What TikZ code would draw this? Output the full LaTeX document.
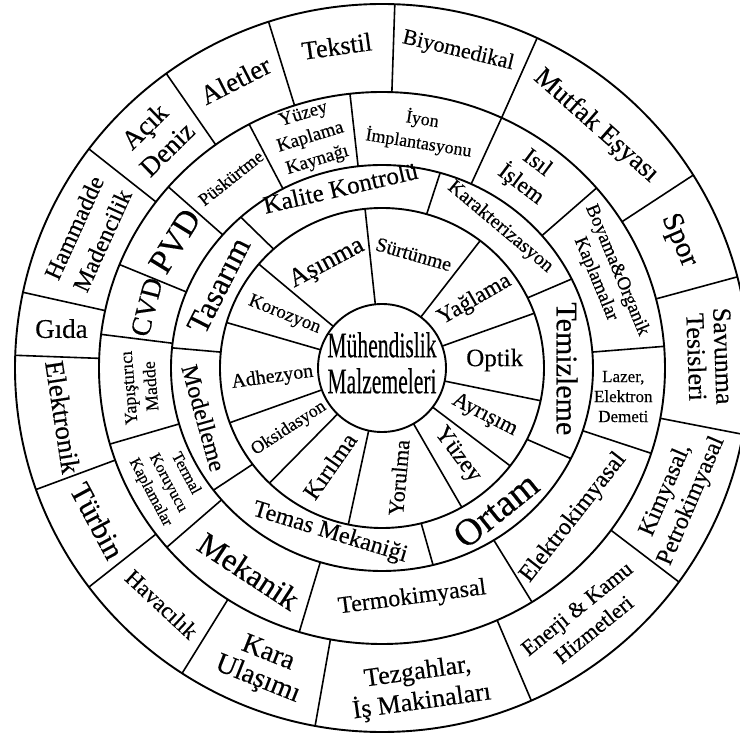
\documentclass[tikz,border=0pt]{standalone}
\usepackage{fontspec}
\setmainfont{Liberation Serif}[FakeBold=0.35]
\usepackage{graphicx}
\newcommand\fs[2]{\fontsize{#1}{#2}\selectfont}
\begin{document}
\begin{tikzpicture}[x=1pt,y=1pt,
  ring/.style={line width=1.9pt},
  sep/.style={line width=1.6pt},
  lab/.style={align=center, inner sep=0pt, text=black}]
\useasboundingbox (-382,-368) rectangle (358,368);
\fill[white] (-382,-368) rectangle (358,368);
\clip (-382,-368) rectangle (358,368);

% ring outlines
\draw[ring] (0,0) ellipse [x radius=367pt, y radius=364pt];
\draw[ring] (0,0) ellipse [x radius=283pt, y radius=276pt];
\draw[ring] (0,0) ellipse [x radius=211pt, y radius=203pt];
\draw[ring] (0,0) ellipse [x radius=162pt, y radius=160pt];
\draw[ring] (0,0) circle [radius=64pt];

% dividers, outer ring
\foreach \a in {-100.5,-66,-36,-10.5,14.5,32,65,88,108,126,143,168,178,199.5,217,237}
  \draw[sep] (\a:283pt and 276pt) -- (\a:367pt and 364pt);
% dividers, process ring
\foreach \a in {-107,-58,-18,4.5,40.7,65,96.5,118,139,158,173,196,220.5}
  \draw[sep] (\a:211pt and 203pt) -- (\a:283pt and 276pt);
% dividers, third ring
\foreach \a in {-76,-26.5,26,74,132,174.3,217}
  \draw[sep] (\a:162pt and 160pt) -- (\a:211pt and 203pt);
% dividers, inner ring
\foreach \a in {-102,-60.5,-37.7,-11.8,20,52.7,96,139.5,163.5,200,226}
  \draw[sep] (\a:64pt) -- (\a:162pt and 160pt);

% centre
\node[lab] (center) at (0,0) {\scalebox{0.6}[1]{\fs{36}{36}\begin{tabular}{@{}c@{}}Mühendislik\\Malzemeleri\end{tabular}}};

% outer ring labels
\node[lab, rotate=8, font=\fs{26}{28}] (t1) at (98:325pt) {Tekstil};
\node[lab, rotate=-13.5, font=\fs{22}{24}] (t2) at (76.5:326pt) {Biyomedikal};
\node[lab, rotate=-41.5, font=\fs{27}{28}] (t3) at (48.5:323pt) {Mutfak Eşyası};
\node[lab, rotate=-66.75, font=\fs{29}{30}] (t4) at (23.25:323pt) {Spor};
\node[lab, rotate=-88, font=\fs{26}{27}] (t5) at (2:328pt) {Savunma\\Tesisleri};
\node[lab, rotate=66.75, font=\fs{24}{28}] (t6) at (-23.25:323pt) {Kimyasal,\\Petrokimyasal};
\node[lab, rotate=39, font=\fs{22}{27}] (t7) at (-51:323pt) {Enerji \& Kamu\\Hizmetleri};
\node[lab, rotate=8, font=\fs{26}{30}] (t8) at (-83.25:322pt) {Tezgahlar,\\İş Makinaları};
\node[lab, rotate=-21.75, font=\fs{28}{28}] (t9) at (248.25:322pt) {Kara\\Ulaşımı};
\node[lab, rotate=-43, font=\fs{23}{24}] (t10) at (227:323pt) {Havacılık};
\node[lab, rotate=-61.75, font=\fs{30}{30}] (t11) at (208.25:323pt) {Türbin};
\node[lab, rotate=-81.25, font=\fs{27}{28}] (t12) at (188.75:323pt) {Elektronik};
\node[lab, font=\fs{27}{28}] (t13) at (173:323pt) {Gıda};
\node[lab, rotate=65.5, font=\fs{24}{31}] (t14) at (155.5:323pt) {Hammadde\\Madencilik};
\node[lab, rotate=44.5, font=\fs{27}{32}] (t15) at (134.5:323pt) {Açık\\Deniz};
\node[lab, rotate=27, font=\fs{27}{28}] (t16) at (117:323pt) {Aletler};

% process ring labels
\node[lab, rotate=17, font=\fs{19}{24}] (p1) at (107.25:241pt) {Yüzey\\Kaplama\\Kaynağı};
\node[lab, rotate=-9, font=\fs{18}{24}] (p2) at (80.75:240pt) {İyon\\İmplantasyonu};
\node[lab, rotate=-37, font=\fs{23}{27}] (p3) at (52.85:243pt) {Isıl\\İşlem};
\node[lab, rotate=-67.4, font=\fs{19}{23}] (p4) at (22.6:243pt) {Boyama\&Organik\\Kaplamalar};
\node[lab, font=\fs{17}{20}] (p5) at (-6.75:243pt) {Lazer,\\Elektron\\Demeti};
\node[lab, rotate=52, font=\fs{24}{26}] (p6) at (-38:243pt) {Elektrokimyasal};
\node[lab, rotate=7.5, font=\fs{24}{26}] (p7) at (277.5:232pt) {Termokimyasal};
\node[lab, rotate=-33.25, font=\fs{32}{34}] (p8) at (236.75:243pt) {Mekanik};
\node[lab, rotate=-61.75, font=\fs{16}{20}] (p9) at (208.25:243pt) {Termal\\Koruyucu\\Kaplamalar};
\node[lab, rotate=94.5, font=\fs{18}{22}] (p10) at (184.5:243pt) {Yapıştırıcı\\Madde};
\node[lab, rotate=75.5, font=\fs{28}{30}] (p11) at (165.5:243pt) {CVD};
\node[lab, rotate=58.5, font=\fs{34}{36}] (p12) at (148.5:243pt) {PVD};
\node[lab, rotate=38.5, font=\fs{18}{20}] (p13) at (128.5:243pt) {Püskürtme};

% third ring labels
\node[lab, rotate=13, font=\fs{25}{27}] (q1) at (103:185pt) {Kalite Kontrolü};
\node[lab, rotate=-40, font=\fs{20}{22}] (q2) at (50:184pt) {Karakterizasyon};
\node[lab, rotate=-90, font=\fs{30}{32}] (q3) at (-0.25:185pt) {Temizleme};
\node[lab, rotate=38.75, font=\fs{38}{40}] (q4) at (-51.25:182pt) {Ortam};
\node[lab, rotate=-17, font=\fs{24}{26}] (q5) at (252.5:173pt) {Temas Mekaniği};
\node[lab, rotate=-74.35, font=\fs{24}{26}] (q6) at (195.65:185pt) {Modelleme};
\node[lab, rotate=63.15, font=\fs{32}{34}] (q7) at (153.15:183pt) {Tasarım};

% inner ring labels
\node[lab, rotate=-16, font=\fs{20}{22}] (c1) at (74.35:118pt) {Sürtünme};
\node[lab, rotate=30, font=\fs{23}{25}] (c2) at (36.35:115pt) {Yağlama};
\node[lab, font=\fs{25}{27}] (c3) at (4:113pt) {Optik};
\node[lab, rotate=-27, font=\fs{22}{24}] (c4) at (-24.75:113pt) {Ayrışım};
\node[lab, rotate=-53, font=\fs{24}{26}] (c5) at (-49.1:115pt) {Yüzey};
\node[lab, rotate=85, font=\fs{22}{24}] (c6) at (278.75:111pt) {Yorulma};
\node[lab, rotate=55, font=\fs{24}{26}] (c7) at (242:111pt) {Kırılma};
\node[lab, rotate=33, font=\fs{18}{20}] (c8) at (213:111pt) {Oksidasyon};
\node[lab, rotate=8, font=\fs{20}{22}] (c9) at (185:110pt) {Adhezyon};
\node[lab, rotate=-22, font=\fs{19}{21}] (c10) at (151.5:111pt) {Korozyon};
\node[lab, rotate=28, font=\fs{26}{28}] (c11) at (117.75:118pt) {Aşınma};
\end{tikzpicture}
\end{document}
